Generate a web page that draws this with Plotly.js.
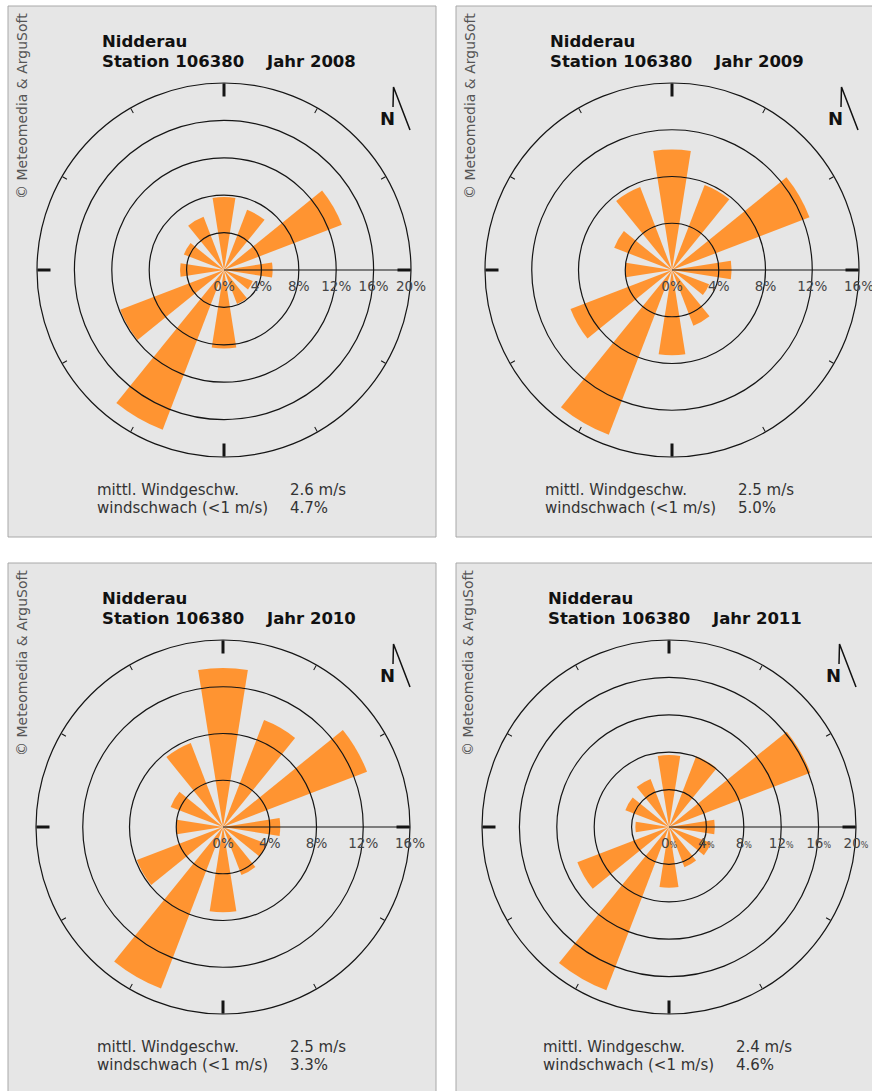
<!DOCTYPE html>
<html><head><meta charset="utf-8">
<script src="https://cdn.plot.ly/plotly-3.0.1.min.js"></script>
<style>html,body{margin:0;padding:0;background:#fff;}#chart{width:872px;height:1091px;}</style>
</head><body><div id="chart"></div>
<script>
// ---- data ----
const directions = [0, 30, 60, 90, 120, 150, 180, 210, 240, 270, 300, 330];
const freq2008 = [7.8, 6.9, 13.5, 5.2, 3.3, 3.9, 8.4, 18.3, 11.9, 4.7, 4.6, 6.1];
const freq2009 = [10.3, 7.8, 12.6, 5.1, 3.4, 5.1, 7.3, 15.1, 9.3, 4.0, 5.3, 7.6];
const freq2010 = [13.6, 9.8, 13.2, 4.9, 4.0, 4.4, 7.3, 14.8, 7.9, 4.0, 4.8, 7.7];
const freq2011 = [7.7, 8.1, 16.2, 4.9, 4.8, 4.6, 6.5, 18.7, 10.5, 3.6, 5.0, 5.5];
const years = ['2008', '2009', '2010', '2011'];
const stationName = 'Nidderau';
const stationId = 'Station 106380';
const meanSpeedLabel = 'mittl. Windgeschw.';
const calmLabel = 'windschwach (<1 m/s)';
const meanSpeed = ['2.6 m/s', '2.5 m/s', '2.5 m/s', '2.4 m/s'];
const calmShare = ['4.7%', '5.0%', '3.3%', '4.6%'];
const copyrightText = '© Meteomedia & ArguSoft';
const radialMax = [20, 16, 16, 20];
const tickVals20 = [0, 4, 8, 12, 16, 20];
const tickVals16 = [0, 4, 8, 12, 16];
const tickText20 = ['0%', '4%', '8%', '12%', '16%', '20%'];
const tickText16 = ['0%', '4%', '8%', '12%', '16%'];
const tickText20small = ['0<span style="font-size:8px">%</span>', '4<span style="font-size:8px">%</span>',
  '8<span style="font-size:8px">%</span>', '12<span style="font-size:8px">%</span>',
  '16<span style="font-size:8px">%</span>', '20<span style="font-size:8px">%</span>'];

const freqs = [freq2008, freq2009, freq2010, freq2011];
const tickValsAll = [tickVals20, tickVals16, tickVals16, tickVals20];
const tickTextAll = [tickText20, tickText16, tickText16, tickText20small];

// ---- layout helpers (pixel -> paper) ----
const W = 872, H = 1091;
const X = p => p / W;
const Y = p => 1 - p / H;
const R = 187;
const panels = [
  {cx: 224, cy: 270, ox: 0, oy: 0, box: [8, 6, 436, 537]},
  {cx: 672, cy: 270, ox: 448, oy: 0, box: [456, 6, 880, 537]},
  {cx: 223, cy: 827, ox: 0, oy: 557, box: [8, 563, 436, 1100]},
  {cx: 669, cy: 827, ox: 446, oy: 557, box: [456, 563, 880, 1100]}
];

const FONT = 'DejaVu Sans, Verdana, sans-serif';
const BAR = '#ff9431';
const LINE = '#151515';

const data = [];
const layout = {
  width: W, height: H, margin: {l: 0, r: 0, t: 0, b: 0},
  paper_bgcolor: '#ffffff', showlegend: false,
  shapes: [], annotations: []
};

panels.forEach((p, i) => {
  const dom = {x: [X(p.cx - R), X(p.cx + R)], y: [Y(p.cy + R), Y(p.cy - R)]};
  const idTick = i === 0 ? 'polar' : 'polar' + (i + 1);
  const idBar = 'polar' + (i + 5);
  const idGrid = 'polar' + (i + 9);
  const max = radialMax[i];

  // big cardinal ticks layer (bottom)
  data.push({type: 'scatterpolar', r: [], theta: [], mode: 'markers', subplot: idTick, hoverinfo: 'skip'});
  layout[idTick] = {
    domain: dom, bgcolor: 'rgba(0,0,0,0)',
    radialaxis: {range: [0, max], showline: false, showgrid: false, ticks: '', showticklabels: false},
    angularaxis: {type: 'linear', rotation: 90, direction: 'clockwise', showline: false, showgrid: false,
      ticks: 'inside', ticklen: 13, tickwidth: 3, tickcolor: LINE, tickmode: 'linear', tick0: 0, dtick: 90,
      showticklabels: false}
  };

  // bars layer
  data.push({type: 'barpolar', r: freqs[i], theta: directions, width: 18, subplot: idBar,
    marker: {color: BAR, line: {width: 0}}, hoverinfo: 'skip'});
  layout[idBar] = {
    domain: dom, bgcolor: 'rgba(0,0,0,0)',
    radialaxis: {range: [0, max], showline: false, showgrid: false, ticks: '', showticklabels: false},
    angularaxis: {type: 'linear', rotation: 90, direction: 'clockwise', showline: false, showgrid: false,
      ticks: '', showticklabels: false}
  };

  // grid / axis layer (top)
  data.push({type: 'scatterpolar', r: [], theta: [], mode: 'markers', subplot: idGrid, hoverinfo: 'skip'});
  layout[idGrid] = {
    domain: dom, bgcolor: 'rgba(0,0,0,0)',
    radialaxis: {range: [0, max], tickmode: 'array', tickvals: tickValsAll[i], ticktext: tickTextAll[i],
      showgrid: true, gridcolor: LINE, gridwidth: 1.2, showline: true, linecolor: LINE, linewidth: 1.2,
      ticks: 'outside', ticklen: 4, tickcolor: 'rgba(0,0,0,0)', angle: 0, side: 'clockwise', tickangle: 0,
      tickfont: {family: FONT, size: 13.5, color: '#444'}},
    angularaxis: {type: 'linear', rotation: 90, direction: 'clockwise', showline: true, linecolor: LINE,
      linewidth: 1.2, showgrid: false, ticks: 'inside', ticklen: 5, tickwidth: 1, tickcolor: LINE,
      tickmode: 'linear', tick0: 0, dtick: 30, showticklabels: false}
  };

  // panel background
  layout.shapes.push({type: 'rect', xref: 'paper', yref: 'paper', layer: 'below',
    x0: X(p.box[0]), x1: X(p.box[2]), y0: Y(p.box[1]), y1: Y(p.box[3]),
    fillcolor: '#e6e6e6', line: {color: '#a8a8a8', width: 1}});

  // north arrow
  const ax = p.ox, ay = p.oy;
  layout.shapes.push({type: 'path', xref: 'paper', yref: 'paper',
    path: `M ${X(393 + ax)} ${Y(107 + ay)} L ${X(393.5 + ax)} ${Y(87 + ay)} L ${X(410 + ax)} ${Y(130 + ay)}`,
    line: {color: '#111', width: 1.5}});
  layout.annotations.push({xref: 'paper', yref: 'paper', x: X(387 + ax), y: Y(118 + ay),
    xanchor: 'center', yanchor: 'middle', showarrow: false, text: '<b>N</b>',
    font: {family: FONT, size: 18, color: '#111'}});

  // titles
  layout.annotations.push({xref: 'paper', yref: 'paper', x: X(100 + ax), y: Y(41 + ay),
    xanchor: 'left', yanchor: 'middle', showarrow: false, text: '<b>' + stationName + '</b>',
    font: {family: FONT, size: 16.5, color: '#111'}});
  layout.annotations.push({xref: 'paper', yref: 'paper', x: X(100 + ax), y: Y(61 + ay),
    xanchor: 'left', yanchor: 'middle', showarrow: false, text: '<b>' + stationId + '</b>',
    font: {family: FONT, size: 16.5, color: '#111'}});
  layout.annotations.push({xref: 'paper', yref: 'paper', x: X(264 + ax), y: Y(61 + ay),
    xanchor: 'left', yanchor: 'middle', showarrow: false, text: '<b>Jahr ' + years[i] + '</b>',
    font: {family: FONT, size: 16.5, color: '#111'}});

  // bottom stats
  layout.annotations.push({xref: 'paper', yref: 'paper', x: X(95 + ax), y: Y(490 + ay),
    xanchor: 'left', yanchor: 'middle', showarrow: false, text: meanSpeedLabel,
    font: {family: FONT, size: 15, color: '#333'}});
  layout.annotations.push({xref: 'paper', yref: 'paper', x: X(95 + ax), y: Y(508 + ay),
    xanchor: 'left', yanchor: 'middle', showarrow: false, text: calmLabel.replace('<', '&lt;'),
    font: {family: FONT, size: 15, color: '#333'}});
  layout.annotations.push({xref: 'paper', yref: 'paper', x: X(288 + ax), y: Y(490 + ay),
    xanchor: 'left', yanchor: 'middle', showarrow: false, text: meanSpeed[i],
    font: {family: FONT, size: 15, color: '#333'}});
  layout.annotations.push({xref: 'paper', yref: 'paper', x: X(288 + ax), y: Y(508 + ay),
    xanchor: 'left', yanchor: 'middle', showarrow: false, text: calmShare[i],
    font: {family: FONT, size: 15, color: '#333'}});

  // copyright
  layout.annotations.push({xref: 'paper', yref: 'paper', x: X(22 + ax), y: Y(106 + ay),
    xanchor: 'center', yanchor: 'middle', showarrow: false, textangle: -90, text: copyrightText,
    font: {family: FONT, size: 14, color: '#555'}});
});

Plotly.newPlot('chart', data, layout, {staticPlot: true, displayModeBar: false});
</script>
</body></html>
